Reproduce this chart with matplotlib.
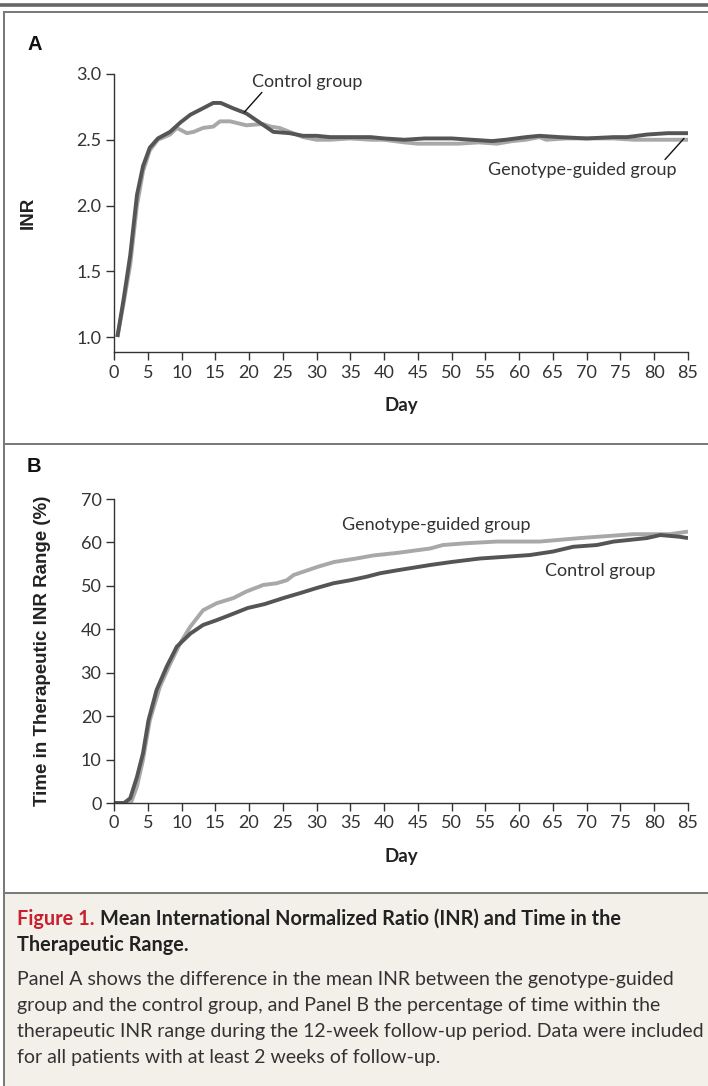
import matplotlib
matplotlib.use("Agg")
import matplotlib.pyplot as plt
from matplotlib.lines import Line2D
from matplotlib.patches import Rectangle

# ------------------------------------------------------------
# Data
# ------------------------------------------------------------
# Panel A - mean INR
inr_ctrl_day = [0.5, 1.4, 2.4, 3.4, 4.3, 5.3, 6.5, 8.3, 9.8, 11.3, 13.2, 14.7, 15.8,
                17.6, 19.6, 21.6, 23.6, 26, 28, 30, 32, 35, 38, 40, 43, 46, 50, 53,
                56, 58, 61, 63, 66, 70, 74, 76, 79, 82, 85]
inr_ctrl = [1.00, 1.28, 1.62, 2.08, 2.30, 2.44, 2.51, 2.56, 2.63, 2.69, 2.74, 2.78, 2.78,
            2.74, 2.70, 2.63, 2.56, 2.55, 2.53, 2.53, 2.52, 2.52, 2.52, 2.51, 2.50, 2.51,
            2.51, 2.50, 2.49, 2.50, 2.52, 2.53, 2.52, 2.51, 2.52, 2.52, 2.54, 2.55, 2.55]

inr_geno_day = [0.5, 1.4, 2.4, 3.4, 4.3, 5.3, 6.5, 8.3, 9.3, 10.8, 11.8, 13.2, 14.7,
                15.7, 17.2, 19.6, 22, 23.2, 24.5, 26, 28, 30, 32, 35, 38, 40, 43, 45,
                48, 51, 54, 56.7, 59, 61, 63, 64, 67, 70, 74, 77, 80, 83, 85]
inr_geno = [1.00, 1.25, 1.55, 2.00, 2.26, 2.42, 2.50, 2.54, 2.59, 2.55, 2.56, 2.59, 2.60,
            2.64, 2.64, 2.61, 2.62, 2.60, 2.59, 2.56, 2.52, 2.50, 2.50, 2.51, 2.50, 2.50,
            2.48, 2.47, 2.47, 2.47, 2.48, 2.47, 2.49, 2.50, 2.52, 2.50, 2.51, 2.51, 2.51,
            2.50, 2.50, 2.50, 2.50]

# Panel B - time in therapeutic range (%)
ttr_ctrl_day = [0, 1.5, 2.4, 3.4, 4.3, 5.1, 6.3, 7.8, 9.3, 11.3, 13.2, 15.2, 17.2, 19.8,
                22.3, 25.1, 27.5, 30, 32.5, 35, 37.4, 39.4, 42, 46.8, 50, 54.2, 58, 61.6,
                65, 68, 71.5, 74, 78.9, 80.9, 83.8, 85]
ttr_ctrl = [0, 0, 1.1, 6, 11.5, 19, 26, 31.4, 36, 39, 41, 42.1, 43.3, 44.9,
            45.8, 47.2, 48.3, 49.5, 50.6, 51.3, 52.1, 52.9, 53.6, 54.8, 55.5, 56.3, 56.7, 57.1,
            57.9, 59, 59.4, 60.2, 61, 61.7, 61.3, 61]

ttr_geno_day = [0, 2.5, 3.4, 4.3, 5.3, 6.8, 8.3, 9.8, 11.3, 13.2, 15.2, 17.7, 19.6, 22.1,
                24.1, 25.6, 26.6, 30.2, 32.6, 35.9, 38.4, 42, 46.8, 48.7, 52, 56.7, 63, 69,
                76.9, 82.3, 85]
ttr_geno = [0, 0, 3.8, 10, 19, 26.8, 32, 36.8, 40.6, 44.4, 46, 47.2, 48.7, 50.2,
            50.6, 51.3, 52.5, 54.4, 55.5, 56.3, 57, 57.6, 58.6, 59.4, 59.8, 60.2, 60.2, 61,
            61.9, 61.9, 62.5]

day_ticks = list(range(0, 90, 5))
inr_ticks = [1.0, 1.5, 2.0, 2.5, 3.0]
ttr_ticks = [0, 10, 20, 30, 40, 50, 60, 70]

# ------------------------------------------------------------
# Style
# ------------------------------------------------------------
DARK = "#555555"
LIGHT = "#a8a8a8"
AXC = "#333333"
FRAME = "#777777"
TXT_FONT = "Lato"
LBL_FONT = "Liberation Sans"

W, H = 708, 1086
fig = plt.figure(figsize=(W / 100, H / 100), dpi=100)


def fx(px):
    return px / W


def fy(py):
    return 1 - py / H


def style_axes(ax):
    for s in ["top", "right"]:
        ax.spines[s].set_visible(False)
    for s in ["left", "bottom"]:
        ax.spines[s].set_color(AXC)
        ax.spines[s].set_linewidth(1.0)
    ax.tick_params(direction="out", length=6, width=1.0, color=AXC,
                   labelcolor=AXC, labelsize=13, pad=3)
    for lab in ax.get_xticklabels() + ax.get_yticklabels():
        lab.set_fontfamily(TXT_FONT)
    ax.set_xlim(0, 85)
    ax.set_xticks(day_ticks)
    ax.set_xticklabels([str(d) for d in day_ticks], fontfamily=TXT_FONT)
    ax.set_xlabel("Day", fontfamily=TXT_FONT, fontweight="bold", fontsize=13.5,
                  color="#222222", labelpad=12)


# ------------------------------------------------------------
# Panel A
# ------------------------------------------------------------
axA = fig.add_axes([fx(114), fy(352), fx(688) - fx(114), fy(74) - fy(352)])
axA.plot(inr_geno_day, inr_geno, color=LIGHT, lw=2.8, solid_capstyle="butt")
axA.plot(inr_ctrl_day, inr_ctrl, color=DARK, lw=2.8, solid_capstyle="butt")
axA.set_ylim(0.886, 3.0)
axA.set_yticks(inr_ticks)
axA.set_yticklabels([f"{t:.1f}" for t in inr_ticks], fontfamily=TXT_FONT)
style_axes(axA)
axA.set_ylabel("INR", fontfamily=LBL_FONT, fontweight="bold", fontsize=13.5,
               color="#222222")
axA.yaxis.set_label_coords(-0.135, 0.5)

axA.text(28.6, 2.94, "Control group", fontfamily=TXT_FONT, fontsize=13,
         color=AXC, ha="center", va="center")
axA.annotate("", xy=(19.3, 2.71), xytext=(21.9, 2.86),
             arrowprops=dict(arrowstyle="-", color="#111111", lw=1.0,
                             shrinkA=0, shrinkB=0))
axA.text(69.3, 2.27, "Genotype-guided group", fontfamily=TXT_FONT, fontsize=13,
         color=AXC, ha="center", va="center")
axA.annotate("", xy=(84.4, 2.51), xytext=(81.6, 2.35),
             arrowprops=dict(arrowstyle="-", color="#111111", lw=1.0,
                             shrinkA=0, shrinkB=0))

# ------------------------------------------------------------
# Panel B
# ------------------------------------------------------------
axB = fig.add_axes([fx(114), fy(803), fx(688) - fx(114), fy(499) - fy(803)])
axB.plot(ttr_geno_day, ttr_geno, color=LIGHT, lw=2.8, solid_capstyle="butt")
axB.plot(ttr_ctrl_day, ttr_ctrl, color=DARK, lw=2.8, solid_capstyle="butt")
axB.set_ylim(0, 70)
axB.set_yticks(ttr_ticks)
axB.set_yticklabels([str(t) for t in ttr_ticks], fontfamily=TXT_FONT)
style_axes(axB)
axB.set_ylabel("Time in Therapeutic INR Range (%)", fontfamily=LBL_FONT,
               fontweight="bold", fontsize=13.5, color="#222222")
axB.yaxis.set_label_coords(-0.11, 0.5)

axB.text(47.7, 64.0, "Genotype-guided group", fontfamily=TXT_FONT, fontsize=13,
         color=AXC, ha="center", va="center")
axB.text(72, 53.4, "Control group", fontfamily=TXT_FONT, fontsize=13,
         color=AXC, ha="center", va="center")

# ------------------------------------------------------------
# Frames, panel letters, caption
# ------------------------------------------------------------
fig.patches.append(Rectangle((fx(4), 0), 1 - fx(4), fy(893), transform=fig.transFigure,
                             facecolor="#f3f0ea", edgecolor="none", zorder=0))
fig.add_artist(Line2D([0, 1], [fy(5), fy(5)], color="#666666", lw=2.6))
fig.add_artist(Line2D([fx(4), 1], [fy(12), fy(12)], color=FRAME, lw=1.4))
fig.add_artist(Line2D([fx(4), 1], [fy(444), fy(444)], color=FRAME, lw=1.4))
fig.add_artist(Line2D([fx(4), 1], [fy(893), fy(893)], color=FRAME, lw=1.4))
fig.add_artist(Line2D([fx(4), fx(4)], [0, fy(12)], color=FRAME, lw=1.4))

fig.text(fx(27), fy(45), "A", fontfamily=LBL_FONT, fontweight="bold", fontsize=14.5,
         color="#111111", va="center")
fig.text(fx(27), fy(467), "B", fontfamily=LBL_FONT, fontweight="bold", fontsize=14.5,
         color="#111111", va="center")

CAP = 14.3
t1 = fig.text(fx(17), fy(919), "Figure 1.", fontfamily=TXT_FONT, fontweight="bold",
              fontsize=CAP, color="#c8202f", va="center")
fig.canvas.draw()
bb = t1.get_window_extent(fig.canvas.get_renderer())
fig.text(bb.x1 / W + fx(5), fy(919),
         "Mean International Normalized Ratio (INR) and Time in the",
         fontfamily=TXT_FONT, fontweight="bold", fontsize=CAP, color="#222222",
         va="center")
fig.text(fx(17), fy(945), "Therapeutic Range.", fontfamily=TXT_FONT, fontweight="bold",
         fontsize=CAP, color="#222222", va="center")

body = ["Panel A shows the difference in the mean INR between the genotype-guided",
        "group and the control group, and Panel B the percentage of time within the",
        "therapeutic INR range during the 12-week follow-up period. Data were included",
        "for all patients with at least 2 weeks of follow-up."]
for i, line in enumerate(body):
    fig.text(fx(17), fy(980 + 26 * i), line, fontfamily=TXT_FONT, fontsize=14,
             color="#333333", va="center")

fig.savefig("out.png", dpi=100)
